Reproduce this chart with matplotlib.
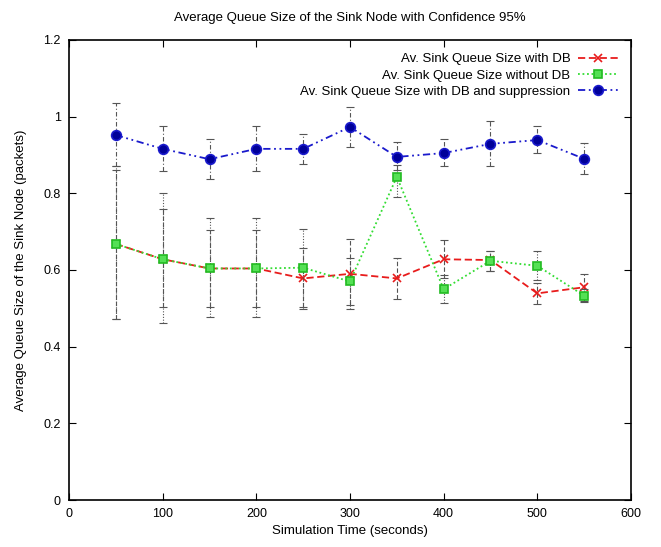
import matplotlib
matplotlib.use("Agg")
import matplotlib.pyplot as plt

time_s = [50, 100, 150, 200, 250, 300, 350, 400, 450, 500, 550]

db_mean = [0.668, 0.628, 0.604, 0.604, 0.578, 0.590, 0.578, 0.628, 0.626, 0.539, 0.555]
db_low = [0.471, 0.504, 0.504, 0.504, 0.503, 0.509, 0.525, 0.578, 0.597, 0.511, 0.517]
db_high = [0.862, 0.759, 0.704, 0.704, 0.657, 0.681, 0.630, 0.678, 0.650, 0.565, 0.589]

nodb_mean = [0.668, 0.628, 0.604, 0.604, 0.606, 0.570, 0.843, 0.550, 0.624, 0.611, 0.533]
nodb_low = [0.471, 0.461, 0.477, 0.477, 0.498, 0.498, 0.791, 0.513, 0.597, 0.574, 0.520]
nodb_high = [0.870, 0.800, 0.735, 0.735, 0.706, 0.631, 0.874, 0.587, 0.650, 0.650, 0.550]

sup_mean = [0.952, 0.916, 0.889, 0.916, 0.916, 0.973, 0.895, 0.905, 0.929, 0.939, 0.890]
sup_low = [0.870, 0.857, 0.837, 0.857, 0.877, 0.922, 0.861, 0.871, 0.871, 0.904, 0.850]
sup_high = [1.035, 0.976, 0.943, 0.976, 0.954, 1.024, 0.935, 0.942, 0.989, 0.975, 0.930]

labels = ["Av. Sink Queue Size with DB",
          "Av. Sink Queue Size without DB",
          "Av. Sink Queue Size with DB and suppression"]

plt.rcParams['font.family'] = ['Liberation Sans', 'DejaVu Sans']

fig = plt.figure(figsize=(6.61, 5.47), dpi=100)
ax = fig.add_axes([0.1044, 0.0859, 0.8502, 0.841])

def draw(mean, low, high, color, ls, marker, mfc, mec, ms, label, ecls):
    yerr = [[m - l for m, l in zip(mean, low)], [h - m for m, h in zip(mean, high)]]
    eb = ax.errorbar(time_s, mean, yerr=yerr, fmt='none', ecolor='#555555',
                     elinewidth=0.8, capsize=3, capthick=0.8)
    for c in eb[2]:
        c.set_linestyle(ecls)
    ax.plot(time_s, mean, color=color, linestyle=ls, marker=marker, mfc=mfc,
            mec=mec, ms=ms, lw=1.3, mew=1.2, label=label)

draw(sup_mean, sup_low, sup_high, '#1a1acc', (0, (4, 2, 1, 2, 1, 2)), 'o', '#000099', '#1a1acc', 7, labels[2], (0, (4, 2, 1, 2)))
draw(db_mean, db_low, db_high, '#e81c1c', (0, (4, 2)), 'x', 'none', '#e81c1c', 6, labels[0], (0, (4, 2)))
draw(nodb_mean, nodb_low, nodb_high, '#33dd33', (0, (1, 1.5)), 's', '#55e055', '#22bb22', 6, labels[1], (0, (1, 1.5)))

ax.set_xlim(0, 600)
ax.set_ylim(0, 1.2)
ax.set_xticks([0, 100, 200, 300, 400, 500, 600])
ax.set_yticks([0, 0.2, 0.4, 0.6, 0.8, 1.0, 1.2])
ax.set_yticklabels(['0', '0.2', '0.4', '0.6', '0.8', '1', '1.2'])
ax.tick_params(direction='in', top=True, right=True, labelsize=9, length=5, pad=6)
for s in ax.spines.values():
    s.set_linewidth(1.2)

ax.set_xlabel("Simulation Time (seconds)", fontsize=9.5, labelpad=3)
ax.set_ylabel("Average Queue Size of the Sink Node (packets)", fontsize=9.5, labelpad=12)
ax.set_title("Average Queue Size of the Sink Node with Confidence 95%", fontsize=9.5, pad=14)

h, l = ax.get_legend_handles_labels()
order = [l.index(x) for x in labels]
ax.legend([h[i] for i in order], [l[i] for i in order], loc='upper right',
          frameon=False, markerfirst=False, fontsize=9.5, handlelength=3.0,
          labelspacing=0.3, borderaxespad=0.6, handletextpad=0.6)

fig.savefig("out.png", dpi=100)
